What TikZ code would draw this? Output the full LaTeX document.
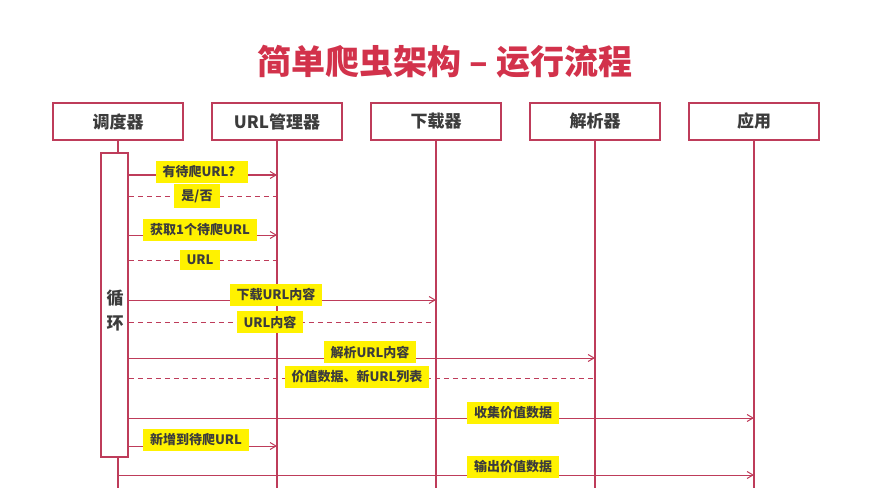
\documentclass[tikz,border=0pt]{standalone}
\usepackage{fontspec}
\newfontfamily\cjk{Noto Sans CJK SC}
\usetikzlibrary{arrows.meta}
\definecolor{lineRed}{RGB}{190,60,90}
\definecolor{titleRed}{RGB}{210,50,75}
\definecolor{textGray}{RGB}{60,60,60}
\tikzset{
	actor/.style={draw=lineRed, line width=1.6pt, fill=white, minimum width=130pt, minimum height=37pt, font=\cjk\bfseries\fontsize{17}{17}\selectfont, text=textGray},
	life/.style={lineRed, line width=1.2pt},
	msg/.style={lineRed, line width=1pt, -{Straight Barb[length=6pt,width=7pt]}},
	reply/.style={lineRed, line width=1pt, dashed, dash pattern=on 5pt off 4pt},
	tag/.style={fill=yellow, inner xsep=7pt, inner ysep=5pt, font=\cjk\bfseries\fontsize{13}{13}\selectfont, text=textGray}
}
\begin{document}
\begin{tikzpicture}[x=1pt, y=-1pt]
	\useasboundingbox (0,0) rectangle (889,500);
	\node [font=\cjk\bfseries\fontsize{34}{34}\selectfont, text=titleRed] (title) at (445,62) {简单爬虫架构 – 运行流程};
	% lifelines
	\node [actor] (sched) at (118,121.5) {调度器};
	\node [actor] (mgr) at (277,121.5) {URL管理器};
	\node [actor] (down) at (436,121.5) {下载器};
	\node [actor] (parse) at (595,121.5) {解析器};
	\node [actor] (app) at (754,121.5) {应用};
	\foreach \n in {sched,mgr,down,parse,app}
		\draw [life] (\n.south) -- (\n.south |- 0,488);
	\node [draw=lineRed, line width=1.6pt, fill=white, minimum width=27pt, minimum height=304pt] (act) at (114.5,305) {};
	\node [font=\cjk\bfseries\fontsize{17}{17}\selectfont, text=textGray] (loop1) at (115,298) {循};
	\node [font=\cjk\bfseries\fontsize{17}{17}\selectfont, text=textGray] (loop2) at (115,323) {环};
	% messages
	\draw [msg] (act.east |- 0,175) -- (mgr.south |- 0,175);
	\node [tag] (m1) at (202,172) {有待爬URL？};
	\draw [reply] (act.east |- 0,196) -- (mgr.south |- 0,196);
	\node [tag] (m2) at (197,196) {是/否};
	\draw [msg] (act.east |- 0,235) -- (mgr.south |- 0,235);
	\node [tag] (m3) at (200,230) {获取1个待爬URL};
	\draw [reply] (act.east |- 0,260) -- (mgr.south |- 0,260);
	\node [tag] (m4) at (200,260) {URL};
	\draw [msg] (act.east |- 0,300) -- (down.south |- 0,300);
	\node [tag] (m5) at (276,295) {下载URL内容};
	\draw [reply] (act.east |- 0,322) -- (down.south |- 0,322);
	\node [tag] (m6) at (270,322) {URL内容};
	\draw [msg] (act.east |- 0,358) -- (parse.south |- 0,358);
	\node [tag] (m7) at (370,352) {解析URL内容};
	\draw [reply] (act.east |- 0,378) -- (parse.south |- 0,378);
	\node [tag] (m8) at (357,377) {价值数据、新URL列表};
	\draw [msg] (act.east |- 0,418) -- (app.south |- 0,418);
	\node [tag] (m9) at (513,413) {收集价值数据};
	\draw [msg] (act.east |- 0,446) -- (mgr.south |- 0,446);
	\node [tag] (m10) at (196,440) {新增到待爬URL};
	\draw [msg] (sched.south |- 0,475) -- (app.south |- 0,475);
	\node [tag] (m11) at (513,467) {输出价值数据};
\end{tikzpicture}
\end{document}
